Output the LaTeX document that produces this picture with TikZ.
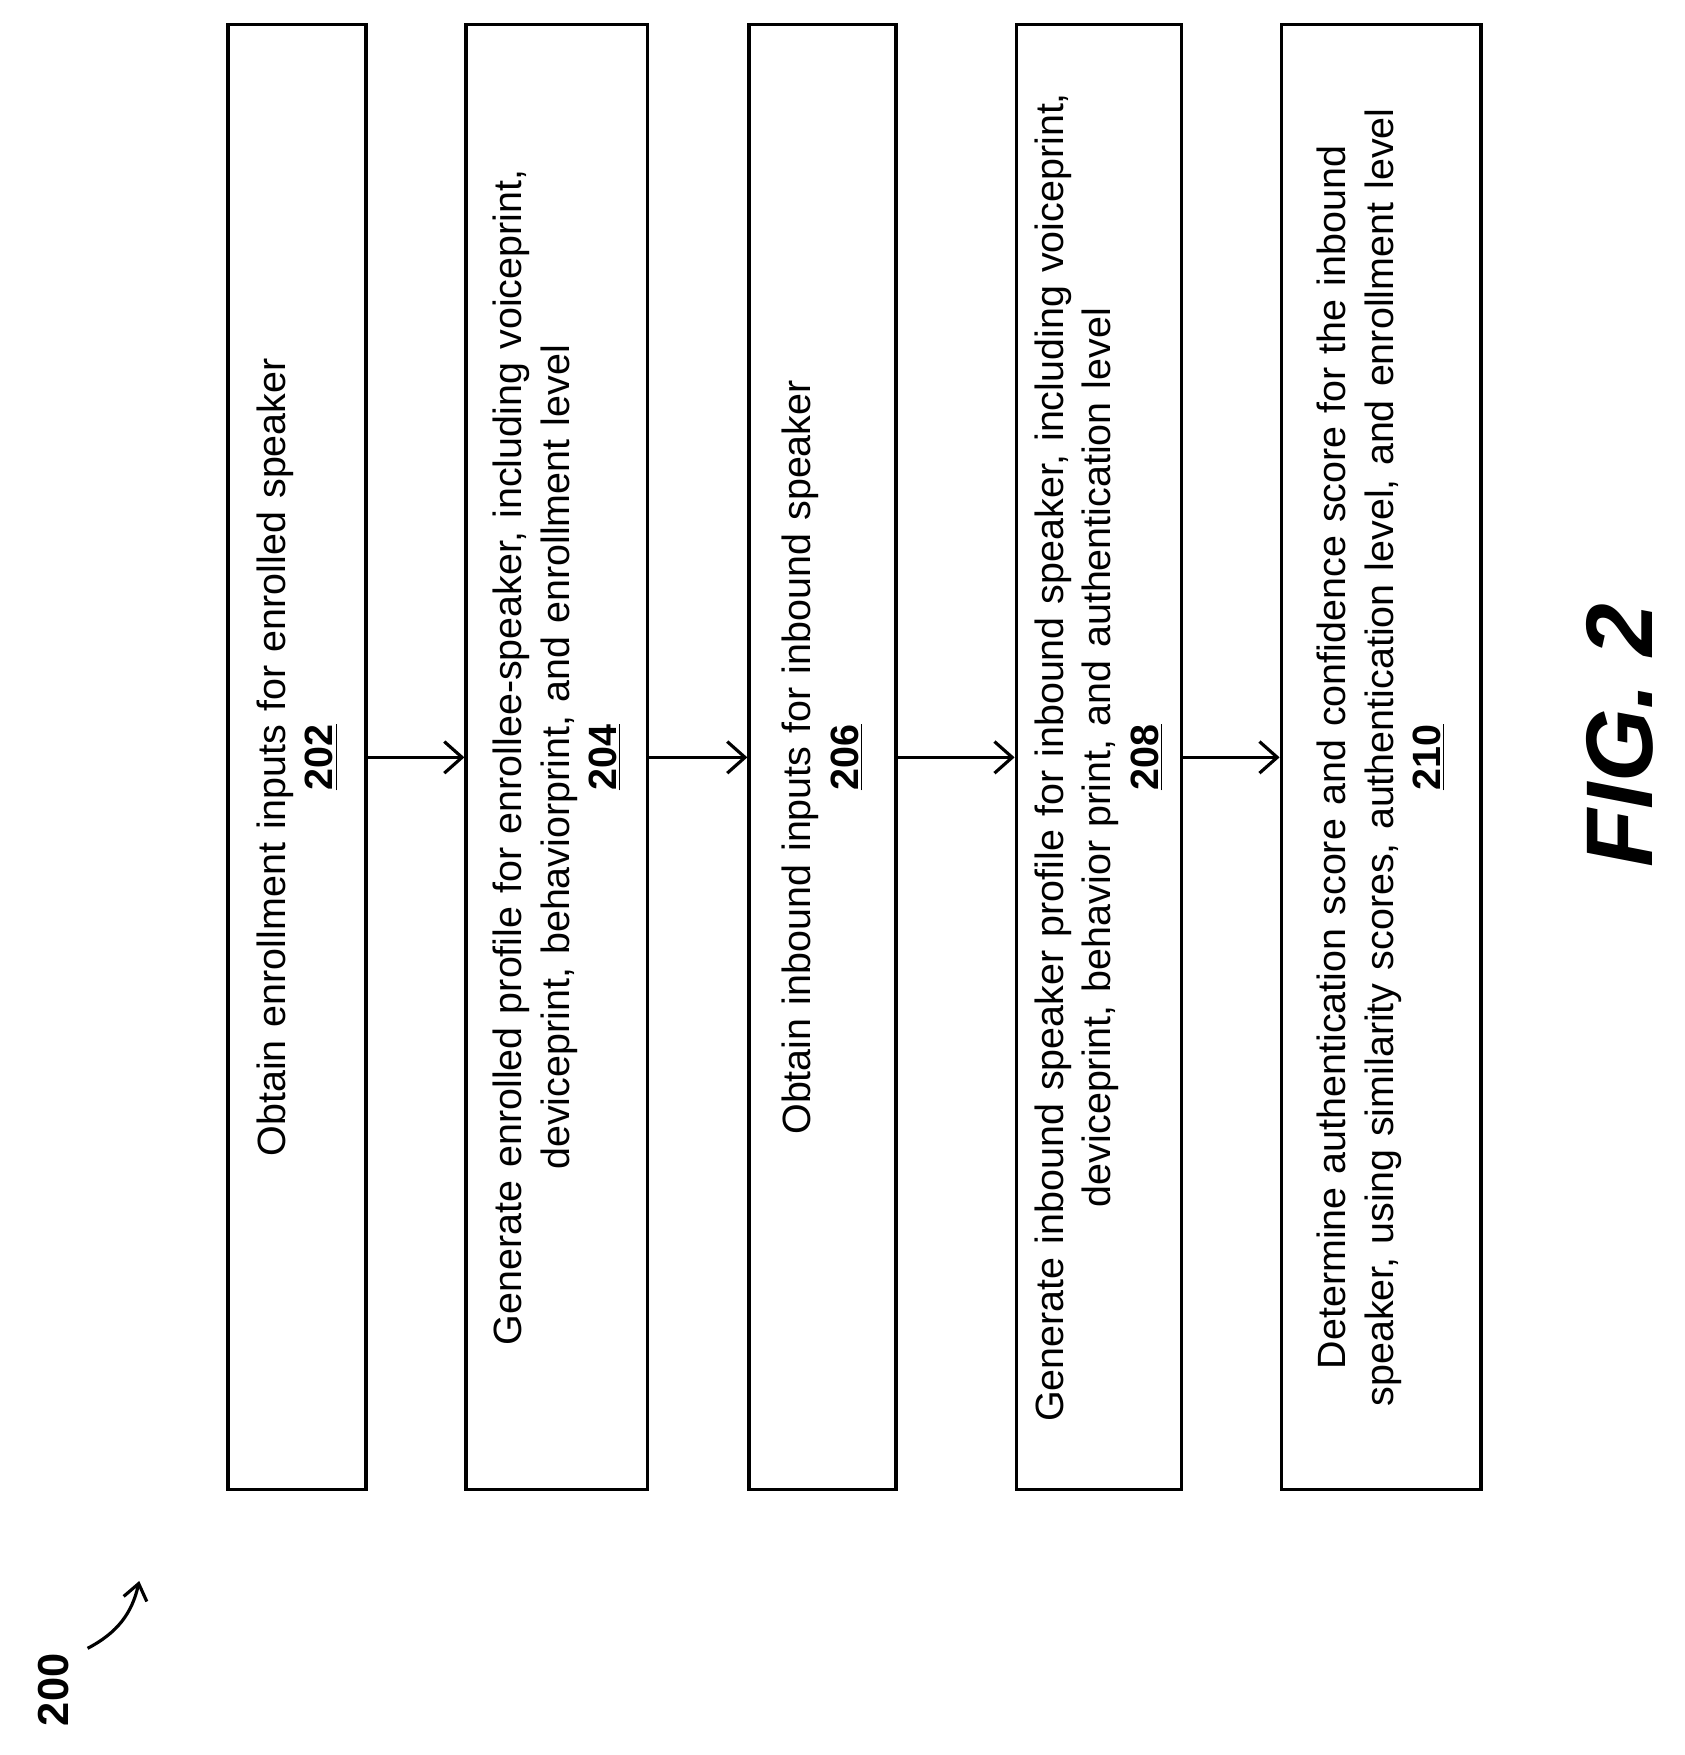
\documentclass[tikz,border=0pt]{standalone}
\usepackage{fontspec}
\setmainfont{Liberation Sans}
\usetikzlibrary{arrows.meta,positioning}

\begin{document}
\begin{tikzpicture}[x=0.02cm, y=-0.02cm,
  stepbox/.style={draw, line width=1.6pt, rotate=90, minimum width=26.1cm, text width=25cm,
    align=center, inner sep=0pt, font=\fontsize{20}{24}\selectfont},
  flow/.style={line width=1.6pt, -{Straight Barb[length=9pt,width=16pt,line width=1.6pt]}},
]
\useasboundingbox (0,0) rectangle (1500,1563);

% process steps
\node[stepbox, minimum height=2.46cm] (s202) at (264.5,674.5)
  {Obtain enrollment inputs for enrolled speaker\\ \underline{\textbf{202}}};
\node[stepbox, minimum height=3.24cm] (s204) at (496,674.5)
  {Generate enrolled profile for enrollee-speaker, including voiceprint,\\
   deviceprint, behaviorprint, and enrollment level\\ \underline{\textbf{204}}};
\node[stepbox, minimum height=2.62cm] (s206) at (732.5,674.5)
  {Obtain inbound inputs for inbound speaker\\ \underline{\textbf{206}}};
\node[stepbox, minimum height=2.94cm] (s208) at (978.5,674.5)
  {Generate inbound speaker profile for inbound speaker, including voiceprint,\\
   deviceprint, behavior print, and authentication level\\ \underline{\textbf{208}}};
\node[stepbox, minimum height=3.56cm] (s210) at (1230,674.5)
  {Determine authentication score and confidence score for the inbound\\
   speaker, using similarity scores, authentication level, and enrollment level\\ \underline{\textbf{210}}};

% connectors
\draw[flow] (s202.south) -- (s204.north);
\draw[flow] (s204.south) -- (s206.north);
\draw[flow] (s206.south) -- (s208.north);
\draw[flow] (s208.south) -- (s210.north);

% reference numeral and figure label
\node[rotate=90, font=\fontsize{22}{26}\selectfont\bfseries] (ref) at (48,1505) {200};
\coordinate (refend) at (124,1408);
\draw[line width=1.6pt, -{Straight Barb[length=8pt,width=12pt,line width=1.6pt]}]
  (78,1468) to[bend right=25] (refend);
\node[rotate=90, font=\fontsize{48}{50}\selectfont\bfseries\itshape] (fig) at (1443,655) {FIG. 2};
\end{tikzpicture}
\end{document}
